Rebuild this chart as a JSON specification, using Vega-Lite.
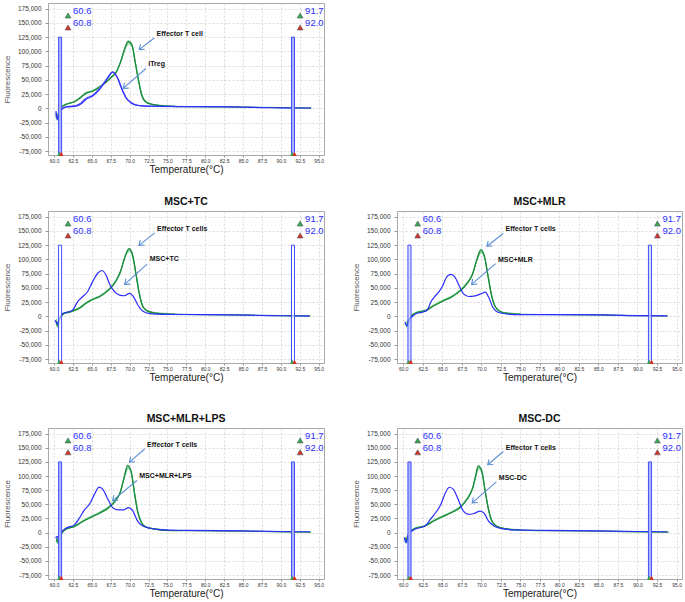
{
"$schema":"https://vega.github.io/schema/vega-lite/v6.json",
"padding":{"left":3,"top":2,"right":0,"bottom":0},
"spacing":30,
"config":{
 "font":"Liberation Sans",
 "view":{"stroke":"#a8a8a8","strokeWidth":1},
 "axis":{"grid":true,"tickCount":30,"gridColor":"#d2d2d2","gridDash":[2,2],"gridWidth":0.8,"domain":false,"tickColor":"#999","labelOverlap":false,"labelColor":"#333","titleColor":"#222","labelFont":"Liberation Sans","titleFont":"Liberation Sans","titleFontWeight":"normal"},
 "axisX":{"labelFontSize":5,"titleFontSize":10,"tickSize":2,"labelPadding":1,"titlePadding":1},
 "axisY":{"labelFontSize":6.5,"titleFontSize":8,"tickSize":3,"labelPadding":4,"titlePadding":6,"titleColor":"#555"},
 "title":{"fontSize":10.5,"fontWeight":"bold","offset":4,"color":"#111","font":"Liberation Sans"}
},
"datasets":{
"bars":[{"t":60.6,"t2":61.0,"f":-82000,"f2":125000},{"t":91.4,"t2":91.8,"f":-82000,"f2":125000}],
"nums":[{"t":62.5,"f":171000,"txt":"60.6"},{"t":62.5,"f":149000,"txt":"60.8"},{"t":93.2,"f":171000,"txt":"91.7"},{"t":93.2,"f":149000,"txt":"92.0"}],
"marks":[{"t":61.85,"f":163000,"k":"g"},{"t":61.85,"f":142000,"k":"r"},{"t":92.55,"f":163000,"k":"g"},{"t":92.55,"f":142000,"k":"r"}],
"bmarks":[{"t":60.7,"f":-80000,"k":"g"},{"t":60.95,"f":-80000,"k":"r"},{"t":91.5,"f":-80000,"k":"g"},{"t":91.8,"f":-80000,"k":"r"}],
"notes":[
{"p":"P1","t":73.56,"f":131000,"txt":"Effector T cell"},{"p":"P1","t":72.46,"f":77000,"txt":"iTreg"},
{"p":"P2","t":73.63,"f":154000,"txt":"Effector T cells"},{"p":"P2","t":72.66,"f":100500,"txt":"MSC+TC"},
{"p":"P3","t":73.1,"f":153000,"txt":"Effector T cells"},{"p":"P3","t":72.14,"f":98400,"txt":"MSC+MLR"},
{"p":"P4","t":72.3,"f":154300,"txt":"Effector T cells"},{"p":"P4","t":71.27,"f":99300,"txt":"MSC+MLR+LPS"},
{"p":"P5","t":73.13,"f":149300,"txt":"Effector T cells"},{"p":"P5","t":72.24,"f":96600,"txt":"MSC-DC"}],
"arrows":[
{"p":"P1","t":73.25,"f":123500,"t2":71.26,"f2":103200},{"p":"P1","t":72.15,"f":69900,"t2":69.14,"f2":35000},
{"p":"P2","t":73.32,"f":146600,"t2":71.23,"f2":124700},{"p":"P2","t":72.3,"f":91600,"t2":69.33,"f2":56100},
{"p":"P3","t":72.8,"f":145500,"t2":70.72,"f2":123100},{"p":"P3","t":71.83,"f":92500,"t2":68.74,"f2":56000},
{"p":"P4","t":71.99,"f":147800,"t2":69.97,"f2":124700},{"p":"P4","t":70.96,"f":92200,"t2":67.74,"f2":56700},
{"p":"P5","t":72.82,"f":143400,"t2":70.82,"f2":120000},{"p":"P5","t":71.93,"f":89600,"t2":68.82,"f2":52700}],
"curves":[
{"p":"P1","s":"G3","t":60.25,"f":-16000},{"p":"P1","s":"G3","t":60.45,"f":-21000},{"p":"P1","s":"G3","t":60.7,"f":-6000},{"p":"P1","s":"G3","t":61.0,"f":2500},{"p":"P1","s":"G3","t":61.5,"f":7000},{"p":"P1","s":"G3","t":62.0,"f":9000},{"p":"P1","s":"G3","t":62.8,"f":12500},{"p":"P1","s":"G3","t":63.6,"f":21000},{"p":"P1","s":"G3","t":64.3,"f":28000},{"p":"P1","s":"G3","t":65.2,"f":32000},{"p":"P1","s":"G3","t":66.1,"f":39000},{"p":"P1","s":"G3","t":66.9,"f":47000},{"p":"P1","s":"G3","t":67.6,"f":56000},{"p":"P1","s":"G3","t":68.3,"f":66000},{"p":"P1","s":"G3","t":68.9,"f":84000},{"p":"P1","s":"G3","t":69.4,"f":104000},{"p":"P1","s":"G3","t":69.9,"f":113000},{"p":"P1","s":"G3","t":70.4,"f":106000},{"p":"P1","s":"G3","t":70.8,"f":78000},{"p":"P1","s":"G3","t":71.3,"f":42000},{"p":"P1","s":"G3","t":71.75,"f":19000},{"p":"P1","s":"G3","t":72.3,"f":10000},{"p":"P1","s":"G3","t":73.2,"f":6500},{"p":"P1","s":"G3","t":74.3,"f":5000},{"p":"P1","s":"G3","t":76,"f":4000},
{"p":"P1","s":"G2","t":60.25,"f":-8000},{"p":"P1","s":"G2","t":60.45,"f":-14000},{"p":"P1","s":"G2","t":60.65,"f":-4000},{"p":"P1","s":"G2","t":60.95,"f":2000},{"p":"P1","s":"G2","t":61.4,"f":6000},{"p":"P1","s":"G2","t":61.9,"f":8500},{"p":"P1","s":"G2","t":62.7,"f":11500},{"p":"P1","s":"G2","t":63.6,"f":20000},{"p":"P1","s":"G2","t":64.3,"f":26000},{"p":"P1","s":"G2","t":65.2,"f":31000},{"p":"P1","s":"G2","t":66.1,"f":38500},{"p":"P1","s":"G2","t":66.9,"f":46500},{"p":"P1","s":"G2","t":67.6,"f":55000},{"p":"P1","s":"G2","t":68.3,"f":65000},{"p":"P1","s":"G2","t":68.9,"f":85000},{"p":"P1","s":"G2","t":69.35,"f":105000},{"p":"P1","s":"G2","t":69.85,"f":116000},{"p":"P1","s":"G2","t":70.35,"f":108000},{"p":"P1","s":"G2","t":70.75,"f":80000},{"p":"P1","s":"G2","t":71.25,"f":44000},{"p":"P1","s":"G2","t":71.7,"f":20000},{"p":"P1","s":"G2","t":72.2,"f":10500},{"p":"P1","s":"G2","t":73.1,"f":6500},{"p":"P1","s":"G2","t":74.2,"f":4500},{"p":"P1","s":"G2","t":76,"f":3500},
{"p":"P1","s":"G1","t":60.25,"f":-12000},{"p":"P1","s":"G1","t":60.4,"f":-18000},{"p":"P1","s":"G1","t":60.6,"f":-8000},{"p":"P1","s":"G1","t":60.9,"f":1000},{"p":"P1","s":"G1","t":61.3,"f":5000},{"p":"P1","s":"G1","t":61.8,"f":8000},{"p":"P1","s":"G1","t":62.6,"f":11000},{"p":"P1","s":"G1","t":63.5,"f":18500},{"p":"P1","s":"G1","t":64.2,"f":27000},{"p":"P1","s":"G1","t":65.1,"f":30000},{"p":"P1","s":"G1","t":66.0,"f":37000},{"p":"P1","s":"G1","t":66.8,"f":45000},{"p":"P1","s":"G1","t":67.5,"f":53500},{"p":"P1","s":"G1","t":68.2,"f":63000},{"p":"P1","s":"G1","t":68.8,"f":82000},{"p":"P1","s":"G1","t":69.3,"f":103000},{"p":"P1","s":"G1","t":69.8,"f":118000},{"p":"P1","s":"G1","t":70.3,"f":112000},{"p":"P1","s":"G1","t":70.7,"f":83000},{"p":"P1","s":"G1","t":71.2,"f":47000},{"p":"P1","s":"G1","t":71.6,"f":22000},{"p":"P1","s":"G1","t":72.15,"f":11000},{"p":"P1","s":"G1","t":73.0,"f":7000},{"p":"P1","s":"G1","t":74.0,"f":5000},{"p":"P1","s":"G1","t":75.5,"f":3500},{"p":"P1","s":"G1","t":78,"f":3000},{"p":"P1","s":"G1","t":82,"f":2500},{"p":"P1","s":"G1","t":86,"f":2000},{"p":"P1","s":"G1","t":90,"f":1200},{"p":"P1","s":"G1","t":94,"f":500},
{"p":"P1","s":"B2","t":60.25,"f":-9000},{"p":"P1","s":"B2","t":60.45,"f":-20000},{"p":"P1","s":"B2","t":60.7,"f":-12000},{"p":"P1","s":"B2","t":61.0,"f":-2000},{"p":"P1","s":"B2","t":61.5,"f":2500},{"p":"P1","s":"B2","t":62.0,"f":3500},{"p":"P1","s":"B2","t":62.9,"f":5000},{"p":"P1","s":"B2","t":63.6,"f":10000},{"p":"P1","s":"B2","t":64.2,"f":17500},{"p":"P1","s":"B2","t":65.1,"f":23000},{"p":"P1","s":"B2","t":66.0,"f":35000},{"p":"P1","s":"B2","t":66.85,"f":49500},{"p":"P1","s":"B2","t":67.3,"f":58500},{"p":"P1","s":"B2","t":67.7,"f":63500},{"p":"P1","s":"B2","t":68.1,"f":60000},{"p":"P1","s":"B2","t":68.5,"f":51000},{"p":"P1","s":"B2","t":68.8,"f":41000},{"p":"P1","s":"B2","t":69.15,"f":29000},{"p":"P1","s":"B2","t":69.5,"f":19500},{"p":"P1","s":"B2","t":70.15,"f":10500},{"p":"P1","s":"B2","t":70.8,"f":6000},{"p":"P1","s":"B2","t":72.0,"f":4200},{"p":"P1","s":"B2","t":74,"f":3600},
{"p":"P1","s":"B","t":60.25,"f":-5000},{"p":"P1","s":"B","t":60.45,"f":-17500},{"p":"P1","s":"B","t":60.7,"f":-10000},{"p":"P1","s":"B","t":60.95,"f":-3000},{"p":"P1","s":"B","t":61.4,"f":1500},{"p":"P1","s":"B","t":61.8,"f":2500},{"p":"P1","s":"B","t":62.9,"f":4000},{"p":"P1","s":"B","t":63.6,"f":8000},{"p":"P1","s":"B","t":64.2,"f":15500},{"p":"P1","s":"B","t":65.1,"f":21500},{"p":"P1","s":"B","t":66.0,"f":33000},{"p":"P1","s":"B","t":66.85,"f":48000},{"p":"P1","s":"B","t":67.3,"f":57000},{"p":"P1","s":"B","t":67.75,"f":64000},{"p":"P1","s":"B","t":68.15,"f":59000},{"p":"P1","s":"B","t":68.5,"f":50000},{"p":"P1","s":"B","t":68.8,"f":39000},{"p":"P1","s":"B","t":69.15,"f":28000},{"p":"P1","s":"B","t":69.5,"f":18500},{"p":"P1","s":"B","t":70.15,"f":9800},{"p":"P1","s":"B","t":70.8,"f":5800},{"p":"P1","s":"B","t":72.0,"f":4000},{"p":"P1","s":"B","t":74,"f":3500},{"p":"P1","s":"B","t":78,"f":3000},{"p":"P1","s":"B","t":84,"f":2500},{"p":"P1","s":"B","t":88,"f":1200},{"p":"P1","s":"B","t":90,"f":800},{"p":"P1","s":"B","t":94,"f":600},

{"p":"P2","s":"G3","t":60.3,"f":-4000},{"p":"P2","s":"G3","t":60.5,"f":-12000},{"p":"P2","s":"G3","t":60.7,"f":-3000},{"p":"P2","s":"G3","t":61.05,"f":2500},{"p":"P2","s":"G3","t":61.4,"f":6000},{"p":"P2","s":"G3","t":62.1,"f":8500},{"p":"P2","s":"G3","t":62.5,"f":10500},{"p":"P2","s":"G3","t":63.4,"f":16000},{"p":"P2","s":"G3","t":64.25,"f":24500},{"p":"P2","s":"G3","t":65.15,"f":31000},{"p":"P2","s":"G3","t":66.05,"f":36000},{"p":"P2","s":"G3","t":66.9,"f":44500},{"p":"P2","s":"G3","t":67.6,"f":53000},{"p":"P2","s":"G3","t":68.25,"f":65000},{"p":"P2","s":"G3","t":68.85,"f":82000},{"p":"P2","s":"G3","t":69.4,"f":105000},{"p":"P2","s":"G3","t":69.95,"f":114000},{"p":"P2","s":"G3","t":70.4,"f":104000},{"p":"P2","s":"G3","t":70.85,"f":72000},{"p":"P2","s":"G3","t":71.3,"f":38000},{"p":"P2","s":"G3","t":71.75,"f":17000},{"p":"P2","s":"G3","t":72.3,"f":9500},{"p":"P2","s":"G3","t":73.3,"f":6500},{"p":"P2","s":"G3","t":74.3,"f":5500},{"p":"P2","s":"G3","t":76,"f":4500},
{"p":"P2","s":"G2","t":60.3,"f":-12000},{"p":"P2","s":"G2","t":60.5,"f":-19000},{"p":"P2","s":"G2","t":60.7,"f":-7000},{"p":"P2","s":"G2","t":61.05,"f":1500},{"p":"P2","s":"G2","t":61.4,"f":5500},{"p":"P2","s":"G2","t":62.1,"f":7800},{"p":"P2","s":"G2","t":62.5,"f":9500},{"p":"P2","s":"G2","t":63.4,"f":15000},{"p":"P2","s":"G2","t":64.25,"f":23500},{"p":"P2","s":"G2","t":65.15,"f":29500},{"p":"P2","s":"G2","t":66.05,"f":35000},{"p":"P2","s":"G2","t":66.9,"f":43000},{"p":"P2","s":"G2","t":67.6,"f":51500},{"p":"P2","s":"G2","t":68.25,"f":63500},{"p":"P2","s":"G2","t":68.85,"f":81000},{"p":"P2","s":"G2","t":69.35,"f":104000},{"p":"P2","s":"G2","t":69.95,"f":117000},{"p":"P2","s":"G2","t":70.38,"f":108000},{"p":"P2","s":"G2","t":70.82,"f":76000},{"p":"P2","s":"G2","t":71.27,"f":41000},{"p":"P2","s":"G2","t":71.7,"f":18500},{"p":"P2","s":"G2","t":72.25,"f":10000},{"p":"P2","s":"G2","t":73.2,"f":6000},{"p":"P2","s":"G2","t":74.2,"f":4500},{"p":"P2","s":"G2","t":76,"f":3800},
{"p":"P2","s":"G1","t":60.3,"f":-8000},{"p":"P2","s":"G1","t":60.45,"f":-16000},{"p":"P2","s":"G1","t":60.67,"f":-5000},{"p":"P2","s":"G1","t":61.0,"f":1000},{"p":"P2","s":"G1","t":61.33,"f":4800},{"p":"P2","s":"G1","t":62.0,"f":7000},{"p":"P2","s":"G1","t":62.44,"f":9000},{"p":"P2","s":"G1","t":63.33,"f":13700},{"p":"P2","s":"G1","t":64.2,"f":22500},{"p":"P2","s":"G1","t":65.1,"f":30100},{"p":"P2","s":"G1","t":66.0,"f":34400},{"p":"P2","s":"G1","t":66.87,"f":42000},{"p":"P2","s":"G1","t":67.54,"f":50300},{"p":"P2","s":"G1","t":68.2,"f":62000},{"p":"P2","s":"G1","t":68.8,"f":78700},{"p":"P2","s":"G1","t":69.32,"f":102000},{"p":"P2","s":"G1","t":69.9,"f":119000},{"p":"P2","s":"G1","t":70.33,"f":111000},{"p":"P2","s":"G1","t":70.78,"f":78700},{"p":"P2","s":"G1","t":71.22,"f":43200},{"p":"P2","s":"G1","t":71.66,"f":19500},{"p":"P2","s":"G1","t":72.2,"f":10600},{"p":"P2","s":"G1","t":73.1,"f":6500},{"p":"P2","s":"G1","t":74.0,"f":4800},{"p":"P2","s":"G1","t":75.5,"f":3500},{"p":"P2","s":"G1","t":80,"f":3000},{"p":"P2","s":"G1","t":86,"f":2000},{"p":"P2","s":"G1","t":90,"f":1200},{"p":"P2","s":"G1","t":93.9,"f":600},
{"p":"P2","s":"B","t":60.15,"f":-7000},{"p":"P2","s":"B","t":60.4,"f":-13000},{"p":"P2","s":"B","t":60.7,"f":-6000},{"p":"P2","s":"B","t":61.1,"f":4800},{"p":"P2","s":"B","t":61.8,"f":7500},{"p":"P2","s":"B","t":62.44,"f":10600},{"p":"P2","s":"B","t":63.1,"f":25500},{"p":"P2","s":"B","t":63.77,"f":34400},{"p":"P2","s":"B","t":64.43,"f":43200},{"p":"P2","s":"B","t":65.1,"f":61000},{"p":"P2","s":"B","t":65.77,"f":75700},{"p":"P2","s":"B","t":66.34,"f":80500},{"p":"P2","s":"B","t":66.87,"f":72700},{"p":"P2","s":"B","t":67.4,"f":55000},{"p":"P2","s":"B","t":67.99,"f":43200},{"p":"P2","s":"B","t":68.65,"f":37200},{"p":"P2","s":"B","t":69.3,"f":36100},{"p":"P2","s":"B","t":69.99,"f":40200},{"p":"P2","s":"B","t":70.5,"f":34400},{"p":"P2","s":"B","t":71.1,"f":19500},{"p":"P2","s":"B","t":71.76,"f":8900},{"p":"P2","s":"B","t":72.65,"f":4800},{"p":"P2","s":"B","t":74.4,"f":3500},{"p":"P2","s":"B","t":80,"f":3000},{"p":"P2","s":"B","t":86,"f":2000},{"p":"P2","s":"B","t":90,"f":1000},{"p":"P2","s":"B","t":93.8,"f":500},

{"p":"P3","s":"G3","t":60.4,"f":-12000},{"p":"P3","s":"G3","t":60.7,"f":-5000},{"p":"P3","s":"G3","t":61.15,"f":3000},{"p":"P3","s":"G3","t":61.8,"f":8000},{"p":"P3","s":"G3","t":62.95,"f":11500},{"p":"P3","s":"G3","t":64.0,"f":20500},{"p":"P3","s":"G3","t":65.1,"f":28500},{"p":"P3","s":"G3","t":66.2,"f":35500},{"p":"P3","s":"G3","t":67.3,"f":46500},{"p":"P3","s":"G3","t":68.2,"f":60000},{"p":"P3","s":"G3","t":68.9,"f":75000},{"p":"P3","s":"G3","t":69.5,"f":101000},{"p":"P3","s":"G3","t":70.0,"f":112000},{"p":"P3","s":"G3","t":70.45,"f":101000},{"p":"P3","s":"G3","t":70.9,"f":69000},{"p":"P3","s":"G3","t":71.35,"f":35000},{"p":"P3","s":"G3","t":71.8,"f":16500},{"p":"P3","s":"G3","t":72.45,"f":8500},{"p":"P3","s":"G3","t":73.4,"f":6000},{"p":"P3","s":"G3","t":75,"f":4500},
{"p":"P3","s":"G2","t":60.4,"f":-19000},{"p":"P3","s":"G2","t":60.7,"f":-10000},{"p":"P3","s":"G2","t":61.15,"f":2000},{"p":"P3","s":"G2","t":61.8,"f":7000},{"p":"P3","s":"G2","t":62.95,"f":10500},{"p":"P3","s":"G2","t":64.0,"f":19500},{"p":"P3","s":"G2","t":65.1,"f":27500},{"p":"P3","s":"G2","t":66.2,"f":34500},{"p":"P3","s":"G2","t":67.3,"f":45500},{"p":"P3","s":"G2","t":68.2,"f":58500},{"p":"P3","s":"G2","t":68.87,"f":74000},{"p":"P3","s":"G2","t":69.45,"f":100000},{"p":"P3","s":"G2","t":69.97,"f":115000},{"p":"P3","s":"G2","t":70.42,"f":104000},{"p":"P3","s":"G2","t":70.85,"f":72000},{"p":"P3","s":"G2","t":71.3,"f":37500},{"p":"P3","s":"G2","t":71.75,"f":17500},{"p":"P3","s":"G2","t":72.4,"f":8500},{"p":"P3","s":"G2","t":73.3,"f":5500},{"p":"P3","s":"G2","t":75,"f":4000},
{"p":"P3","s":"G1","t":60.4,"f":-16000},{"p":"P3","s":"G1","t":60.65,"f":-8000},{"p":"P3","s":"G1","t":61.1,"f":1200},{"p":"P3","s":"G1","t":61.76,"f":6500},{"p":"P3","s":"G1","t":62.9,"f":10000},{"p":"P3","s":"G1","t":63.97,"f":18900},{"p":"P3","s":"G1","t":65.07,"f":26500},{"p":"P3","s":"G1","t":66.17,"f":33600},{"p":"P3","s":"G1","t":67.28,"f":44200},{"p":"P3","s":"G1","t":68.16,"f":57100},{"p":"P3","s":"G1","t":68.82,"f":72000},{"p":"P3","s":"G1","t":69.4,"f":98500},{"p":"P3","s":"G1","t":69.93,"f":117200},{"p":"P3","s":"G1","t":70.37,"f":107000},{"p":"P3","s":"G1","t":70.8,"f":74800},{"p":"P3","s":"G1","t":71.26,"f":39400},{"p":"P3","s":"G1","t":71.7,"f":18900},{"p":"P3","s":"G1","t":72.36,"f":8800},{"p":"P3","s":"G1","t":73.24,"f":5300},{"p":"P3","s":"G1","t":74.5,"f":3500},{"p":"P3","s":"G1","t":80,"f":3000},{"p":"P3","s":"G1","t":86,"f":2000},{"p":"P3","s":"G1","t":90,"f":1200},{"p":"P3","s":"G1","t":93.9,"f":600},
{"p":"P3","s":"B","t":60.2,"f":-10000},{"p":"P3","s":"B","t":60.44,"f":-16500},{"p":"P3","s":"B","t":60.87,"f":-4700},{"p":"P3","s":"B","t":61.3,"f":1200},{"p":"P3","s":"B","t":61.76,"f":5300},{"p":"P3","s":"B","t":62.4,"f":7000},{"p":"P3","s":"B","t":63.09,"f":11100},{"p":"P3","s":"B","t":63.52,"f":24700},{"p":"P3","s":"B","t":63.97,"f":33600},{"p":"P3","s":"B","t":64.63,"f":44200},{"p":"P3","s":"B","t":65.07,"f":54300},{"p":"P3","s":"B","t":65.5,"f":67700},{"p":"P3","s":"B","t":66.09,"f":73700},{"p":"P3","s":"B","t":66.62,"f":69000},{"p":"P3","s":"B","t":67.15,"f":54300},{"p":"P3","s":"B","t":67.72,"f":39400},{"p":"P3","s":"B","t":68.38,"f":34800},{"p":"P3","s":"B","t":69.05,"f":35400},{"p":"P3","s":"B","t":69.93,"f":39400},{"p":"P3","s":"B","t":70.5,"f":42400},{"p":"P3","s":"B","t":70.94,"f":33600},{"p":"P3","s":"B","t":71.47,"f":15900},{"p":"P3","s":"B","t":72.13,"f":7100},{"p":"P3","s":"B","t":73.24,"f":4100},{"p":"P3","s":"B","t":75,"f":3000},{"p":"P3","s":"B","t":80,"f":3000},{"p":"P3","s":"B","t":86,"f":2500},{"p":"P3","s":"B","t":90,"f":1200},{"p":"P3","s":"B","t":93.8,"f":800},

{"p":"P4","s":"G3","t":60.3,"f":-7000},{"p":"P4","s":"G3","t":60.5,"f":-13000},{"p":"P4","s":"G3","t":60.75,"f":-4000},{"p":"P4","s":"G3","t":60.95,"f":0},{"p":"P4","s":"G3","t":61.6,"f":7500},{"p":"P4","s":"G3","t":62.7,"f":12000},{"p":"P4","s":"G3","t":63.85,"f":21500},{"p":"P4","s":"G3","t":64.95,"f":29500},{"p":"P4","s":"G3","t":66.1,"f":36500},{"p":"P4","s":"G3","t":67.2,"f":46000},{"p":"P4","s":"G3","t":68.1,"f":58000},{"p":"P4","s":"G3","t":68.8,"f":73000},{"p":"P4","s":"G3","t":69.35,"f":100000},{"p":"P4","s":"G3","t":69.8,"f":113000},{"p":"P4","s":"G3","t":70.25,"f":103000},{"p":"P4","s":"G3","t":70.7,"f":66000},{"p":"P4","s":"G3","t":71.15,"f":33000},{"p":"P4","s":"G3","t":71.6,"f":17000},{"p":"P4","s":"G3","t":72.15,"f":9500},{"p":"P4","s":"G3","t":73.35,"f":6500},{"p":"P4","s":"G3","t":75,"f":5000},
{"p":"P4","s":"G2","t":60.3,"f":-14000},{"p":"P4","s":"G2","t":60.5,"f":-19000},{"p":"P4","s":"G2","t":60.75,"f":-9000},{"p":"P4","s":"G2","t":60.95,"f":-2000},{"p":"P4","s":"G2","t":61.6,"f":6500},{"p":"P4","s":"G2","t":62.7,"f":11000},{"p":"P4","s":"G2","t":63.85,"f":20500},{"p":"P4","s":"G2","t":64.95,"f":28000},{"p":"P4","s":"G2","t":66.1,"f":35500},{"p":"P4","s":"G2","t":67.2,"f":44500},{"p":"P4","s":"G2","t":68.1,"f":56500},{"p":"P4","s":"G2","t":68.77,"f":72000},{"p":"P4","s":"G2","t":69.3,"f":99000},{"p":"P4","s":"G2","t":69.76,"f":116000},{"p":"P4","s":"G2","t":70.2,"f":107000},{"p":"P4","s":"G2","t":70.65,"f":69000},{"p":"P4","s":"G2","t":71.1,"f":35000},{"p":"P4","s":"G2","t":71.55,"f":18500},{"p":"P4","s":"G2","t":72.1,"f":10000},{"p":"P4","s":"G2","t":73.3,"f":6500},{"p":"P4","s":"G2","t":75,"f":4500},
{"p":"P4","s":"G1","t":60.3,"f":-10000},{"p":"P4","s":"G1","t":60.46,"f":-16000},{"p":"P4","s":"G1","t":60.7,"f":-7000},{"p":"P4","s":"G1","t":60.9,"f":-3000},{"p":"P4","s":"G1","t":61.57,"f":6000},{"p":"P4","s":"G1","t":62.68,"f":10600},{"p":"P4","s":"G1","t":63.8,"f":19500},{"p":"P4","s":"G1","t":64.92,"f":27300},{"p":"P4","s":"G1","t":66.04,"f":34400},{"p":"P4","s":"G1","t":67.16,"f":43200},{"p":"P4","s":"G1","t":68.05,"f":55000},{"p":"P4","s":"G1","t":68.72,"f":69800},{"p":"P4","s":"G1","t":69.25,"f":96500},{"p":"P4","s":"G1","t":69.71,"f":118800},{"p":"P4","s":"G1","t":70.15,"f":111000},{"p":"P4","s":"G1","t":70.6,"f":72700},{"p":"P4","s":"G1","t":71.05,"f":37200},{"p":"P4","s":"G1","t":71.49,"f":19500},{"p":"P4","s":"G1","t":72.07,"f":10600},{"p":"P4","s":"G1","t":73.2,"f":6500},{"p":"P4","s":"G1","t":74.5,"f":4100},{"p":"P4","s":"G1","t":78,"f":3500},{"p":"P4","s":"G1","t":85,"f":2500},{"p":"P4","s":"G1","t":90,"f":1500},{"p":"P4","s":"G1","t":94,"f":800},
{"p":"P4","s":"B","t":60.2,"f":-9000},{"p":"P4","s":"B","t":60.46,"f":-7000},{"p":"P4","s":"B","t":60.67,"f":-16000},{"p":"P4","s":"B","t":60.9,"f":-1000},{"p":"P4","s":"B","t":61.57,"f":7800},{"p":"P4","s":"B","t":62.68,"f":13700},{"p":"P4","s":"B","t":63.35,"f":25500},{"p":"P4","s":"B","t":64.02,"f":40200},{"p":"P4","s":"B","t":64.69,"f":50300},{"p":"P4","s":"B","t":65.36,"f":68000},{"p":"P4","s":"B","t":65.95,"f":80500},{"p":"P4","s":"B","t":66.49,"f":75700},{"p":"P4","s":"B","t":67.16,"f":58000},{"p":"P4","s":"B","t":67.83,"f":43200},{"p":"P4","s":"B","t":68.5,"f":40200},{"p":"P4","s":"B","t":69.17,"f":40200},{"p":"P4","s":"B","t":69.84,"f":44300},{"p":"P4","s":"B","t":70.42,"f":38500},{"p":"P4","s":"B","t":70.96,"f":22500},{"p":"P4","s":"B","t":71.63,"f":12400},{"p":"P4","s":"B","t":72.74,"f":7800},{"p":"P4","s":"B","t":74.5,"f":4800},{"p":"P4","s":"B","t":77.5,"f":4000},{"p":"P4","s":"B","t":85,"f":3000},{"p":"P4","s":"B","t":90,"f":2000},{"p":"P4","s":"B","t":93.8,"f":1500},

{"p":"P5","s":"G3","t":60.2,"f":-15000},{"p":"P5","s":"G3","t":60.4,"f":-19000},{"p":"P5","s":"G3","t":60.6,"f":-10000},{"p":"P5","s":"G3","t":60.85,"f":-1000},{"p":"P5","s":"G3","t":61.5,"f":8000},{"p":"P5","s":"G3","t":62.85,"f":13000},{"p":"P5","s":"G3","t":63.97,"f":22500},{"p":"P5","s":"G3","t":65.1,"f":30000},{"p":"P5","s":"G3","t":66.2,"f":37000},{"p":"P5","s":"G3","t":67.3,"f":46500},{"p":"P5","s":"G3","t":68.2,"f":61000},{"p":"P5","s":"G3","t":68.9,"f":79000},{"p":"P5","s":"G3","t":69.35,"f":102000},{"p":"P5","s":"G3","t":69.68,"f":113000},{"p":"P5","s":"G3","t":70.1,"f":104000},{"p":"P5","s":"G3","t":70.55,"f":69000},{"p":"P5","s":"G3","t":71.0,"f":35500},{"p":"P5","s":"G3","t":71.45,"f":17500},{"p":"P5","s":"G3","t":72.05,"f":10500},{"p":"P5","s":"G3","t":73.2,"f":7000},{"p":"P5","s":"G3","t":75,"f":5500},
{"p":"P5","s":"G2","t":60.2,"f":-12000},{"p":"P5","s":"G2","t":60.38,"f":-17000},{"p":"P5","s":"G2","t":60.6,"f":-8000},{"p":"P5","s":"G2","t":60.85,"f":1000},{"p":"P5","s":"G2","t":61.5,"f":7500},{"p":"P5","s":"G2","t":62.85,"f":12500},{"p":"P5","s":"G2","t":63.97,"f":21500},{"p":"P5","s":"G2","t":65.1,"f":29000},{"p":"P5","s":"G2","t":66.2,"f":36000},{"p":"P5","s":"G2","t":67.3,"f":45000},{"p":"P5","s":"G2","t":68.2,"f":60000},{"p":"P5","s":"G2","t":68.87,"f":78000},{"p":"P5","s":"G2","t":69.3,"f":101000},{"p":"P5","s":"G2","t":69.63,"f":116000},{"p":"P5","s":"G2","t":70.07,"f":108000},{"p":"P5","s":"G2","t":70.5,"f":73000},{"p":"P5","s":"G2","t":70.97,"f":38000},{"p":"P5","s":"G2","t":71.4,"f":19000},{"p":"P5","s":"G2","t":72.0,"f":11000},{"p":"P5","s":"G2","t":73.1,"f":7000},{"p":"P5","s":"G2","t":75,"f":5000},
{"p":"P5","s":"G1","t":60.2,"f":-8000},{"p":"P5","s":"G1","t":60.36,"f":-13000},{"p":"P5","s":"G1","t":60.55,"f":-6000},{"p":"P5","s":"G1","t":60.8,"f":0},{"p":"P5","s":"G1","t":61.47,"f":7000},{"p":"P5","s":"G1","t":62.8,"f":11700},{"p":"P5","s":"G1","t":63.92,"f":20500},{"p":"P5","s":"G1","t":65.04,"f":28100},{"p":"P5","s":"G1","t":66.15,"f":35100},{"p":"P5","s":"G1","t":67.26,"f":43900},{"p":"P5","s":"G1","t":68.15,"f":58500},{"p":"P5","s":"G1","t":68.82,"f":76000},{"p":"P5","s":"G1","t":69.26,"f":99500},{"p":"P5","s":"G1","t":69.58,"f":118200},{"p":"P5","s":"G1","t":70.02,"f":111000},{"p":"P5","s":"G1","t":70.46,"f":76000},{"p":"P5","s":"G1","t":70.92,"f":40900},{"p":"P5","s":"G1","t":71.36,"f":20500},{"p":"P5","s":"G1","t":71.94,"f":11700},{"p":"P5","s":"G1","t":73.0,"f":7000},{"p":"P5","s":"G1","t":74.4,"f":4700},{"p":"P5","s":"G1","t":78,"f":3500},{"p":"P5","s":"G1","t":85,"f":2500},{"p":"P5","s":"G1","t":90,"f":1500},{"p":"P5","s":"G1","t":94,"f":800},
{"p":"P5","s":"B","t":60.13,"f":-8800},{"p":"P5","s":"B","t":60.36,"f":-17500},{"p":"P5","s":"B","t":60.67,"f":-3000},{"p":"P5","s":"B","t":61.47,"f":5800},{"p":"P5","s":"B","t":62.8,"f":11700},{"p":"P5","s":"B","t":63.47,"f":23400},{"p":"P5","s":"B","t":64.14,"f":35100},{"p":"P5","s":"B","t":64.81,"f":49700},{"p":"P5","s":"B","t":65.39,"f":70200},{"p":"P5","s":"B","t":65.92,"f":80200},{"p":"P5","s":"B","t":66.45,"f":76000},{"p":"P5","s":"B","t":67.04,"f":58500},{"p":"P5","s":"B","t":67.7,"f":38100},{"p":"P5","s":"B","t":68.38,"f":32200},{"p":"P5","s":"B","t":69.05,"f":33900},{"p":"P5","s":"B","t":69.85,"f":38100},{"p":"P5","s":"B","t":70.38,"f":33900},{"p":"P5","s":"B","t":70.92,"f":20500},{"p":"P5","s":"B","t":71.62,"f":11700},{"p":"P5","s":"B","t":72.6,"f":7000},{"p":"P5","s":"B","t":74.4,"f":4700},{"p":"P5","s":"B","t":78,"f":4000},{"p":"P5","s":"B","t":85,"f":3000},{"p":"P5","s":"B","t":90,"f":2000},{"p":"P5","s":"B","t":93.8,"f":1500}
]},
"vconcat":[
{"vconcat":[
{"width":276,"height":152,
 "layer":[
  {"data":{"name":"curves"},"transform":[{"filter":"datum.p=='P1'"}],"mark":{"type":"line","interpolate":"monotone","strokeWidth":1.2},"encoding":{"x":{"field":"t","type":"quantitative","scale":{"domain":[59.2,95.7],"nice":false,"zero":false},"title":"Temperature(°C)","axis":{"tickCount":30,"values":[60,62.5,65,67.5,70,72.5,75,77.5,80,82.5,85,87.5,90,92.5,95],"labelExpr":"format(datum.value,'.1f')"}},"y":{"field":"f","type":"quantitative","scale":{"domain":[-82000,185000],"nice":false,"zero":false},"title":"Fluorescence","axis":{"tickCount":30,"values":[-75000,-50000,-25000,0,25000,50000,75000,100000,125000,150000,175000],"labelExpr":"(datum.value<0?'-':'')+format(abs(datum.value),',')"}},"color":{"field":"s","type":"nominal","scale":{"domain":["G3","G2","G1","B2","B"],"range":["#93d6aa","#45b065","#1a8a3a","#5a5aff","#2d2dff"]},"legend":null}}},
  {"data":{"name":"bars"},"mark":{"type":"rect","fill":"#aab2fb","stroke":"#4050ff","strokeWidth":1},"encoding":{"x":{"field":"t","type":"quantitative","scale":{"domain":[59.2,95.7],"nice":false,"zero":false}},"x2":{"field":"t2"},"y":{"field":"f","type":"quantitative","scale":{"domain":[-82000,185000],"nice":false,"zero":false}},"y2":{"field":"f2"}}},
  {"data":{"name":"arrows"},"transform":[{"filter":"datum.p=='P1'"}],"mark":{"type":"rule","color":"#5b8fd4","strokeWidth":1.1},"encoding":{"x":{"field":"t","type":"quantitative","scale":{"domain":[59.2,95.7],"nice":false,"zero":false}},"x2":{"field":"t2"},"y":{"field":"f","type":"quantitative","scale":{"domain":[-82000,185000],"nice":false,"zero":false}},"y2":{"field":"f2"}}},
  {"data":{"name":"arrows"},"transform":[{"filter":"datum.p=='P1'"}],"mark":{"type":"point","shape":"M-1,-0.75L0,0L-1,0.75","angle":140,"size":80,"filled":false,"color":"#5b8fd4","strokeWidth":1.1,"opacity":1},"encoding":{"x":{"field":"t2","type":"quantitative","scale":{"domain":[59.2,95.7],"nice":false,"zero":false}},"y":{"field":"f2","type":"quantitative","scale":{"domain":[-82000,185000],"nice":false,"zero":false}}}},
  {"data":{"name":"marks"},"mark":{"type":"point","shape":"triangle-up","size":34,"filled":true,"opacity":1,"strokeWidth":0.6,"stroke":"#555"},"encoding":{"x":{"field":"t","type":"quantitative","scale":{"domain":[59.2,95.7],"nice":false,"zero":false}},"y":{"field":"f","type":"quantitative","scale":{"domain":[-82000,185000],"nice":false,"zero":false}},"fill":{"field":"k","type":"nominal","scale":{"domain":["g","r"],"range":["#34a853","#d93025"]},"legend":null}}},
  {"data":{"name":"bmarks"},"mark":{"type":"point","shape":"triangle-up","size":22,"filled":true,"opacity":1},"encoding":{"x":{"field":"t","type":"quantitative","scale":{"domain":[59.2,95.7],"nice":false,"zero":false}},"y":{"field":"f","type":"quantitative","scale":{"domain":[-82000,185000],"nice":false,"zero":false}},"fill":{"field":"k","type":"nominal","scale":{"domain":["g","r"],"range":["#34a853","#d93025"]},"legend":null}}},
  {"data":{"name":"nums"},"mark":{"type":"text","align":"left","baseline":"middle","fontSize":9.5,"color":"#3030ff","font":"Liberation Sans"},"encoding":{"x":{"field":"t","type":"quantitative","scale":{"domain":[59.2,95.7],"nice":false,"zero":false}},"y":{"field":"f","type":"quantitative","scale":{"domain":[-82000,185000],"nice":false,"zero":false}},"text":{"field":"txt"}}},
  {"data":{"name":"notes"},"transform":[{"filter":"datum.p=='P1'"}],"mark":{"type":"text","align":"left","baseline":"middle","fontSize":7,"fontWeight":"bold","color":"#111","font":"Liberation Sans"},"encoding":{"x":{"field":"t","type":"quantitative","scale":{"domain":[59.2,95.7],"nice":false,"zero":false}},"y":{"field":"f","type":"quantitative","scale":{"domain":[-82000,185000],"nice":false,"zero":false}},"text":{"field":"txt"}}}
 ]},
{"hconcat":[
{"width":276,"height":152,"title":"MSC+TC",
 "layer":[
  {"data":{"name":"curves"},"transform":[{"filter":"datum.p=='P2'"}],"mark":{"type":"line","interpolate":"monotone","strokeWidth":1.2},"encoding":{"x":{"field":"t","type":"quantitative","scale":{"domain":[59.2,95.7],"nice":false,"zero":false},"title":"Temperature(°C)","axis":{"tickCount":30,"values":[60,62.5,65,67.5,70,72.5,75,77.5,80,82.5,85,87.5,90,92.5,95],"labelExpr":"format(datum.value,'.1f')"}},"y":{"field":"f","type":"quantitative","scale":{"domain":[-82000,185000],"nice":false,"zero":false},"title":"Fluorescence","axis":{"tickCount":30,"values":[-75000,-50000,-25000,0,25000,50000,75000,100000,125000,150000,175000],"labelExpr":"(datum.value<0?'-':'')+format(abs(datum.value),',')"}},"color":{"field":"s","type":"nominal","scale":{"domain":["G3","G2","G1","B2","B"],"range":["#93d6aa","#45b065","#1a8a3a","#5a5aff","#2d2dff"]},"legend":null}}},
  {"data":{"name":"bars"},"mark":{"type":"rect","fill":"#ffffff","fillOpacity":0.6,"stroke":"#4050ff","strokeWidth":1},"encoding":{"x":{"field":"t","type":"quantitative","scale":{"domain":[59.2,95.7],"nice":false,"zero":false}},"x2":{"field":"t2"},"y":{"field":"f","type":"quantitative","scale":{"domain":[-82000,185000],"nice":false,"zero":false}},"y2":{"field":"f2"}}},
  {"data":{"name":"arrows"},"transform":[{"filter":"datum.p=='P2'"}],"mark":{"type":"rule","color":"#5b8fd4","strokeWidth":1.1},"encoding":{"x":{"field":"t","type":"quantitative","scale":{"domain":[59.2,95.7],"nice":false,"zero":false}},"x2":{"field":"t2"},"y":{"field":"f","type":"quantitative","scale":{"domain":[-82000,185000],"nice":false,"zero":false}},"y2":{"field":"f2"}}},
  {"data":{"name":"arrows"},"transform":[{"filter":"datum.p=='P2'"}],"mark":{"type":"point","shape":"M-1,-0.75L0,0L-1,0.75","angle":140,"size":80,"filled":false,"color":"#5b8fd4","strokeWidth":1.1,"opacity":1},"encoding":{"x":{"field":"t2","type":"quantitative","scale":{"domain":[59.2,95.7],"nice":false,"zero":false}},"y":{"field":"f2","type":"quantitative","scale":{"domain":[-82000,185000],"nice":false,"zero":false}}}},
  {"data":{"name":"marks"},"mark":{"type":"point","shape":"triangle-up","size":34,"filled":true,"opacity":1,"strokeWidth":0.6,"stroke":"#555"},"encoding":{"x":{"field":"t","type":"quantitative","scale":{"domain":[59.2,95.7],"nice":false,"zero":false}},"y":{"field":"f","type":"quantitative","scale":{"domain":[-82000,185000],"nice":false,"zero":false}},"fill":{"field":"k","type":"nominal","scale":{"domain":["g","r"],"range":["#34a853","#d93025"]},"legend":null}}},
  {"data":{"name":"bmarks"},"mark":{"type":"point","shape":"triangle-up","size":22,"filled":true,"opacity":1},"encoding":{"x":{"field":"t","type":"quantitative","scale":{"domain":[59.2,95.7],"nice":false,"zero":false}},"y":{"field":"f","type":"quantitative","scale":{"domain":[-82000,185000],"nice":false,"zero":false}},"fill":{"field":"k","type":"nominal","scale":{"domain":["g","r"],"range":["#34a853","#d93025"]},"legend":null}}},
  {"data":{"name":"nums"},"mark":{"type":"text","align":"left","baseline":"middle","fontSize":9.5,"color":"#3030ff","font":"Liberation Sans"},"encoding":{"x":{"field":"t","type":"quantitative","scale":{"domain":[59.2,95.7],"nice":false,"zero":false}},"y":{"field":"f","type":"quantitative","scale":{"domain":[-82000,185000],"nice":false,"zero":false}},"text":{"field":"txt"}}},
  {"data":{"name":"notes"},"transform":[{"filter":"datum.p=='P2'"}],"mark":{"type":"text","align":"left","baseline":"middle","fontSize":7,"fontWeight":"bold","color":"#111","font":"Liberation Sans"},"encoding":{"x":{"field":"t","type":"quantitative","scale":{"domain":[59.2,95.7],"nice":false,"zero":false}},"y":{"field":"f","type":"quantitative","scale":{"domain":[-82000,185000],"nice":false,"zero":false}},"text":{"field":"txt"}}}
 ]},
{"width":285,"height":152,"title":"MSC+MLR",
 "layer":[
  {"data":{"name":"curves"},"transform":[{"filter":"datum.p=='P3'"}],"mark":{"type":"line","interpolate":"monotone","strokeWidth":1.2},"encoding":{"x":{"field":"t","type":"quantitative","scale":{"domain":[59.2,95.7],"nice":false,"zero":false},"title":"Temperature(°C)","axis":{"tickCount":30,"values":[60,62.5,65,67.5,70,72.5,75,77.5,80,82.5,85,87.5,90,92.5,95],"labelExpr":"format(datum.value,'.1f')"}},"y":{"field":"f","type":"quantitative","scale":{"domain":[-82000,185000],"nice":false,"zero":false},"title":"Fluorescence","axis":{"tickCount":30,"values":[-75000,-50000,-25000,0,25000,50000,75000,100000,125000,150000,175000],"labelExpr":"(datum.value<0?'-':'')+format(abs(datum.value),',')"}},"color":{"field":"s","type":"nominal","scale":{"domain":["G3","G2","G1","B2","B"],"range":["#93d6aa","#45b065","#1a8a3a","#5a5aff","#2d2dff"]},"legend":null}}},
  {"data":{"name":"bars"},"mark":{"type":"rect","fill":"#c4caff","fillOpacity":0.7,"stroke":"#4050ff","strokeWidth":1},"encoding":{"x":{"field":"t","type":"quantitative","scale":{"domain":[59.2,95.7],"nice":false,"zero":false}},"x2":{"field":"t2"},"y":{"field":"f","type":"quantitative","scale":{"domain":[-82000,185000],"nice":false,"zero":false}},"y2":{"field":"f2"}}},
  {"data":{"name":"arrows"},"transform":[{"filter":"datum.p=='P3'"}],"mark":{"type":"rule","color":"#5b8fd4","strokeWidth":1.1},"encoding":{"x":{"field":"t","type":"quantitative","scale":{"domain":[59.2,95.7],"nice":false,"zero":false}},"x2":{"field":"t2"},"y":{"field":"f","type":"quantitative","scale":{"domain":[-82000,185000],"nice":false,"zero":false}},"y2":{"field":"f2"}}},
  {"data":{"name":"arrows"},"transform":[{"filter":"datum.p=='P3'"}],"mark":{"type":"point","shape":"M-1,-0.75L0,0L-1,0.75","angle":140,"size":80,"filled":false,"color":"#5b8fd4","strokeWidth":1.1,"opacity":1},"encoding":{"x":{"field":"t2","type":"quantitative","scale":{"domain":[59.2,95.7],"nice":false,"zero":false}},"y":{"field":"f2","type":"quantitative","scale":{"domain":[-82000,185000],"nice":false,"zero":false}}}},
  {"data":{"name":"marks"},"mark":{"type":"point","shape":"triangle-up","size":34,"filled":true,"opacity":1,"strokeWidth":0.6,"stroke":"#555"},"encoding":{"x":{"field":"t","type":"quantitative","scale":{"domain":[59.2,95.7],"nice":false,"zero":false}},"y":{"field":"f","type":"quantitative","scale":{"domain":[-82000,185000],"nice":false,"zero":false}},"fill":{"field":"k","type":"nominal","scale":{"domain":["g","r"],"range":["#34a853","#d93025"]},"legend":null}}},
  {"data":{"name":"bmarks"},"mark":{"type":"point","shape":"triangle-up","size":22,"filled":true,"opacity":1},"encoding":{"x":{"field":"t","type":"quantitative","scale":{"domain":[59.2,95.7],"nice":false,"zero":false}},"y":{"field":"f","type":"quantitative","scale":{"domain":[-82000,185000],"nice":false,"zero":false}},"fill":{"field":"k","type":"nominal","scale":{"domain":["g","r"],"range":["#34a853","#d93025"]},"legend":null}}},
  {"data":{"name":"nums"},"mark":{"type":"text","align":"left","baseline":"middle","fontSize":9.5,"color":"#3030ff","font":"Liberation Sans"},"encoding":{"x":{"field":"t","type":"quantitative","scale":{"domain":[59.2,95.7],"nice":false,"zero":false}},"y":{"field":"f","type":"quantitative","scale":{"domain":[-82000,185000],"nice":false,"zero":false}},"text":{"field":"txt"}}},
  {"data":{"name":"notes"},"transform":[{"filter":"datum.p=='P3'"}],"mark":{"type":"text","align":"left","baseline":"middle","fontSize":7,"fontWeight":"bold","color":"#111","font":"Liberation Sans"},"encoding":{"x":{"field":"t","type":"quantitative","scale":{"domain":[59.2,95.7],"nice":false,"zero":false}},"y":{"field":"f","type":"quantitative","scale":{"domain":[-82000,185000],"nice":false,"zero":false}},"text":{"field":"txt"}}}
 ]}
],"spacing":27}
],"spacing":21},
{"hconcat":[
{"width":276,"height":151,"title":"MSC+MLR+LPS",
 "layer":[
  {"data":{"name":"curves"},"transform":[{"filter":"datum.p=='P4'"}],"mark":{"type":"line","interpolate":"monotone","strokeWidth":1.2},"encoding":{"x":{"field":"t","type":"quantitative","scale":{"domain":[59.2,95.7],"nice":false,"zero":false},"title":"Temperature(°C)","axis":{"tickCount":30,"values":[60,62.5,65,67.5,70,72.5,75,77.5,80,82.5,85,87.5,90,92.5,95],"labelExpr":"format(datum.value,'.1f')"}},"y":{"field":"f","type":"quantitative","scale":{"domain":[-82000,185000],"nice":false,"zero":false},"title":"Fluorescence","axis":{"tickCount":30,"values":[-75000,-50000,-25000,0,25000,50000,75000,100000,125000,150000,175000],"labelExpr":"(datum.value<0?'-':'')+format(abs(datum.value),',')"}},"color":{"field":"s","type":"nominal","scale":{"domain":["G3","G2","G1","B2","B"],"range":["#93d6aa","#45b065","#1a8a3a","#5a5aff","#2d2dff"]},"legend":null}}},
  {"data":{"name":"bars"},"mark":{"type":"rect","fill":"#aab2fb","stroke":"#4050ff","strokeWidth":1},"encoding":{"x":{"field":"t","type":"quantitative","scale":{"domain":[59.2,95.7],"nice":false,"zero":false}},"x2":{"field":"t2"},"y":{"field":"f","type":"quantitative","scale":{"domain":[-82000,185000],"nice":false,"zero":false}},"y2":{"field":"f2"}}},
  {"data":{"name":"arrows"},"transform":[{"filter":"datum.p=='P4'"}],"mark":{"type":"rule","color":"#5b8fd4","strokeWidth":1.1},"encoding":{"x":{"field":"t","type":"quantitative","scale":{"domain":[59.2,95.7],"nice":false,"zero":false}},"x2":{"field":"t2"},"y":{"field":"f","type":"quantitative","scale":{"domain":[-82000,185000],"nice":false,"zero":false}},"y2":{"field":"f2"}}},
  {"data":{"name":"arrows"},"transform":[{"filter":"datum.p=='P4'"}],"mark":{"type":"point","shape":"M-1,-0.75L0,0L-1,0.75","angle":140,"size":80,"filled":false,"color":"#5b8fd4","strokeWidth":1.1,"opacity":1},"encoding":{"x":{"field":"t2","type":"quantitative","scale":{"domain":[59.2,95.7],"nice":false,"zero":false}},"y":{"field":"f2","type":"quantitative","scale":{"domain":[-82000,185000],"nice":false,"zero":false}}}},
  {"data":{"name":"marks"},"mark":{"type":"point","shape":"triangle-up","size":34,"filled":true,"opacity":1,"strokeWidth":0.6,"stroke":"#555"},"encoding":{"x":{"field":"t","type":"quantitative","scale":{"domain":[59.2,95.7],"nice":false,"zero":false}},"y":{"field":"f","type":"quantitative","scale":{"domain":[-82000,185000],"nice":false,"zero":false}},"fill":{"field":"k","type":"nominal","scale":{"domain":["g","r"],"range":["#34a853","#d93025"]},"legend":null}}},
  {"data":{"name":"bmarks"},"mark":{"type":"point","shape":"triangle-up","size":22,"filled":true,"opacity":1},"encoding":{"x":{"field":"t","type":"quantitative","scale":{"domain":[59.2,95.7],"nice":false,"zero":false}},"y":{"field":"f","type":"quantitative","scale":{"domain":[-82000,185000],"nice":false,"zero":false}},"fill":{"field":"k","type":"nominal","scale":{"domain":["g","r"],"range":["#34a853","#d93025"]},"legend":null}}},
  {"data":{"name":"nums"},"mark":{"type":"text","align":"left","baseline":"middle","fontSize":9.5,"color":"#3030ff","font":"Liberation Sans"},"encoding":{"x":{"field":"t","type":"quantitative","scale":{"domain":[59.2,95.7],"nice":false,"zero":false}},"y":{"field":"f","type":"quantitative","scale":{"domain":[-82000,185000],"nice":false,"zero":false}},"text":{"field":"txt"}}},
  {"data":{"name":"notes"},"transform":[{"filter":"datum.p=='P4'"}],"mark":{"type":"text","align":"left","baseline":"middle","fontSize":7,"fontWeight":"bold","color":"#111","font":"Liberation Sans"},"encoding":{"x":{"field":"t","type":"quantitative","scale":{"domain":[59.2,95.7],"nice":false,"zero":false}},"y":{"field":"f","type":"quantitative","scale":{"domain":[-82000,185000],"nice":false,"zero":false}},"text":{"field":"txt"}}}
 ]},
{"width":285,"height":151,"title":"MSC-DC",
 "layer":[
  {"data":{"name":"curves"},"transform":[{"filter":"datum.p=='P5'"}],"mark":{"type":"line","interpolate":"monotone","strokeWidth":1.2},"encoding":{"x":{"field":"t","type":"quantitative","scale":{"domain":[59.2,95.7],"nice":false,"zero":false},"title":"Temperature(°C)","axis":{"tickCount":30,"values":[60,62.5,65,67.5,70,72.5,75,77.5,80,82.5,85,87.5,90,92.5,95],"labelExpr":"format(datum.value,'.1f')"}},"y":{"field":"f","type":"quantitative","scale":{"domain":[-82000,185000],"nice":false,"zero":false},"title":"Fluorescence","axis":{"tickCount":30,"values":[-75000,-50000,-25000,0,25000,50000,75000,100000,125000,150000,175000],"labelExpr":"(datum.value<0?'-':'')+format(abs(datum.value),',')"}},"color":{"field":"s","type":"nominal","scale":{"domain":["G3","G2","G1","B2","B"],"range":["#93d6aa","#45b065","#1a8a3a","#5a5aff","#2d2dff"]},"legend":null}}},
  {"data":{"name":"bars"},"mark":{"type":"rect","fill":"#aab2fb","stroke":"#4050ff","strokeWidth":1},"encoding":{"x":{"field":"t","type":"quantitative","scale":{"domain":[59.2,95.7],"nice":false,"zero":false}},"x2":{"field":"t2"},"y":{"field":"f","type":"quantitative","scale":{"domain":[-82000,185000],"nice":false,"zero":false}},"y2":{"field":"f2"}}},
  {"data":{"name":"arrows"},"transform":[{"filter":"datum.p=='P5'"}],"mark":{"type":"rule","color":"#5b8fd4","strokeWidth":1.1},"encoding":{"x":{"field":"t","type":"quantitative","scale":{"domain":[59.2,95.7],"nice":false,"zero":false}},"x2":{"field":"t2"},"y":{"field":"f","type":"quantitative","scale":{"domain":[-82000,185000],"nice":false,"zero":false}},"y2":{"field":"f2"}}},
  {"data":{"name":"arrows"},"transform":[{"filter":"datum.p=='P5'"}],"mark":{"type":"point","shape":"M-1,-0.75L0,0L-1,0.75","angle":140,"size":80,"filled":false,"color":"#5b8fd4","strokeWidth":1.1,"opacity":1},"encoding":{"x":{"field":"t2","type":"quantitative","scale":{"domain":[59.2,95.7],"nice":false,"zero":false}},"y":{"field":"f2","type":"quantitative","scale":{"domain":[-82000,185000],"nice":false,"zero":false}}}},
  {"data":{"name":"marks"},"mark":{"type":"point","shape":"triangle-up","size":34,"filled":true,"opacity":1,"strokeWidth":0.6,"stroke":"#555"},"encoding":{"x":{"field":"t","type":"quantitative","scale":{"domain":[59.2,95.7],"nice":false,"zero":false}},"y":{"field":"f","type":"quantitative","scale":{"domain":[-82000,185000],"nice":false,"zero":false}},"fill":{"field":"k","type":"nominal","scale":{"domain":["g","r"],"range":["#34a853","#d93025"]},"legend":null}}},
  {"data":{"name":"bmarks"},"mark":{"type":"point","shape":"triangle-up","size":22,"filled":true,"opacity":1},"encoding":{"x":{"field":"t","type":"quantitative","scale":{"domain":[59.2,95.7],"nice":false,"zero":false}},"y":{"field":"f","type":"quantitative","scale":{"domain":[-82000,185000],"nice":false,"zero":false}},"fill":{"field":"k","type":"nominal","scale":{"domain":["g","r"],"range":["#34a853","#d93025"]},"legend":null}}},
  {"data":{"name":"nums"},"mark":{"type":"text","align":"left","baseline":"middle","fontSize":9.5,"color":"#3030ff","font":"Liberation Sans"},"encoding":{"x":{"field":"t","type":"quantitative","scale":{"domain":[59.2,95.7],"nice":false,"zero":false}},"y":{"field":"f","type":"quantitative","scale":{"domain":[-82000,185000],"nice":false,"zero":false}},"text":{"field":"txt"}}},
  {"data":{"name":"notes"},"transform":[{"filter":"datum.p=='P5'"}],"mark":{"type":"text","align":"left","baseline":"middle","fontSize":7,"fontWeight":"bold","color":"#111","font":"Liberation Sans"},"encoding":{"x":{"field":"t","type":"quantitative","scale":{"domain":[59.2,95.7],"nice":false,"zero":false}},"y":{"field":"f","type":"quantitative","scale":{"domain":[-82000,185000],"nice":false,"zero":false}},"text":{"field":"txt"}}}
 ]}
],"spacing":27}
]
}
